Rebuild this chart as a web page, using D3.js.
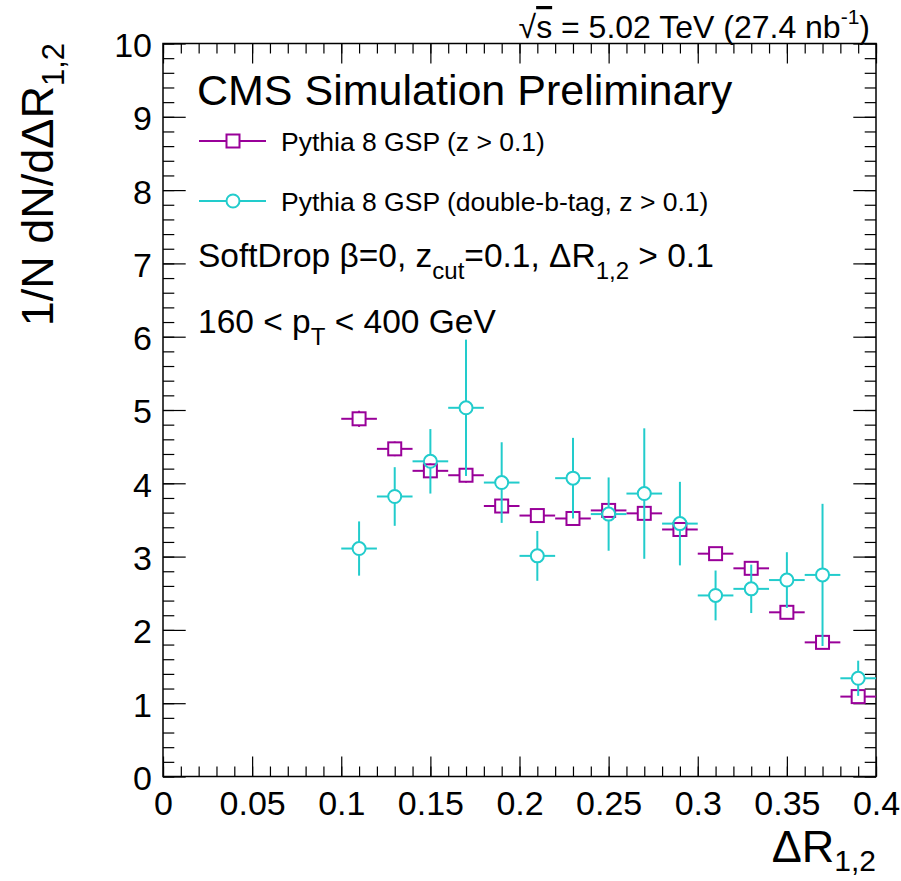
<!DOCTYPE html>
<html>
<head>
<meta charset="utf-8">
<script src="https://cdn.jsdelivr.net/npm/d3@7"></script>
<style>
  html, body { margin: 0; padding: 0; background: #fff; }
  svg text { font-family: "Liberation Sans", Arial, Helvetica, sans-serif; fill: #000; }
</style>
</head>
<body>
<svg id="chart" width="901" height="881"></svg>
<script>
// ---- data ----
const binCenters = [0.11, 0.13, 0.15, 0.17, 0.19, 0.21, 0.23, 0.25, 0.27, 0.29, 0.31, 0.33, 0.35, 0.37, 0.39];
const binHalfWidth = 0.01;
const gspValues = [4.88, 4.47, 4.17, 4.11, 3.69, 3.56, 3.52, 3.63, 3.59, 3.37, 3.04, 2.84, 2.24, 1.83, 1.09];
const gspErrors = [0.11, 0.10, 0.10, 0.10, 0.09, 0.09, 0.09, 0.09, 0.09, 0.08, 0.08, 0.08, 0.07, 0.07, 0.05];
const dbtagValues = [3.11, 3.82, 4.30, 5.03, 4.01, 3.01, 4.07, 3.58, 3.86, 3.45, 2.47, 2.56, 2.68, 2.75, 1.34];
const dbtagErrors = [0.37, 0.40, 0.44, 0.93, 0.55, 0.34, 0.55, 0.50, 0.89, 0.57, 0.34, 0.33, 0.38, 0.97, 0.24];
const xTickValues = [0, 0.05, 0.1, 0.15, 0.2, 0.25, 0.3, 0.35, 0.4];
const xTickLabels = ["0", "0.05", "0.1", "0.15", "0.2", "0.25", "0.3", "0.35", "0.4"];
const yTickValues = [0, 1, 2, 3, 4, 5, 6, 7, 8, 9, 10];
const yTickLabels = ["0", "1", "2", "3", "4", "5", "6", "7", "8", "9", "10"];
const seriesNames = ["Pythia 8 GSP (z > 0.1)", "Pythia 8 GSP (double-b-tag, z > 0.1)"];

// ---- layout ----
const L = 163, R = 876, T = 43.5, B = 776.5;
const colGsp = "#990099", colDb = "#22cccc";
const svg = d3.select("#chart");
const x = d3.scaleLinear().domain([0, 0.4]).range([L, R]);
const y = d3.scaleLinear().domain([0, 10]).range([B, T]);

const xMinor = d3.range(0, 0.4001, 0.01);
const yMinor = d3.range(0, 10.001, 0.2);

function styleAxis(g) {
  g.select(".domain").remove();
  g.selectAll(".tick line").attr("stroke", "#000").attr("stroke-width", 1.2);
}

// bottom axis
svg.append("g").attr("transform", `translate(0,${B})`)
  .call(d3.axisBottom(x).tickValues(xMinor).tickSizeInner(-10).tickSizeOuter(0).tickFormat(""))
  .call(styleAxis);
svg.append("g").attr("transform", `translate(0,${B})`)
  .call(d3.axisBottom(x).tickValues(xTickValues).tickSizeInner(-20).tickSizeOuter(0).tickPadding(14)
    .tickFormat((d, i) => xTickLabels[i]))
  .call(styleAxis)
  .call(g => g.selectAll("text").attr("font-size", 34).attr("font-family", "Liberation Sans, Arial, sans-serif").attr("fill", "#000"));
// top axis
svg.append("g").attr("transform", `translate(0,${T})`)
  .call(d3.axisTop(x).tickValues(xMinor).tickSizeInner(-10).tickSizeOuter(0).tickFormat(""))
  .call(styleAxis);
svg.append("g").attr("transform", `translate(0,${T})`)
  .call(d3.axisTop(x).tickValues(xTickValues).tickSizeInner(-20).tickSizeOuter(0).tickFormat(""))
  .call(styleAxis);
// left axis
svg.append("g").attr("transform", `translate(${L},0)`)
  .call(d3.axisLeft(y).tickValues(yMinor).tickSizeInner(-11.3).tickSizeOuter(0).tickFormat(""))
  .call(styleAxis);
svg.append("g").attr("transform", `translate(${L},0)`)
  .call(d3.axisLeft(y).tickValues(yTickValues).tickSizeInner(-22.7).tickSizeOuter(0).tickPadding(11)
    .tickFormat((d, i) => yTickLabels[i]))
  .call(styleAxis)
  .call(g => g.selectAll("text").attr("font-size", 34).attr("dy", "0.38em").attr("font-family", "Liberation Sans, Arial, sans-serif").attr("fill", "#000"));
// right axis
svg.append("g").attr("transform", `translate(${R},0)`)
  .call(d3.axisRight(y).tickValues(yMinor).tickSizeInner(-11.3).tickSizeOuter(0).tickFormat(""))
  .call(styleAxis);
svg.append("g").attr("transform", `translate(${R},0)`)
  .call(d3.axisRight(y).tickValues(yTickValues).tickSizeInner(-22.7).tickSizeOuter(0).tickFormat(""))
  .call(styleAxis);

// frame
svg.append("rect").attr("x", L).attr("y", T).attr("width", R - L).attr("height", B - T)
  .attr("fill", "none").attr("stroke", "#000").attr("stroke-width", 1.5);

// ---- data points ----
const MR = 6.5; // marker half size
function drawSeries(vals, errs, color, shape) {
  const g = svg.append("g");
  vals.forEach((v, i) => {
    const cx = x(binCenters[i]);
    const cy = y(v);
    const xl = x(binCenters[i] - binHalfWidth), xr = x(binCenters[i] + binHalfWidth);
    const ePx = y(v - errs[i]) - cy;
    const seg = (x1, y1, x2, y2) => g.append("line").attr("x1", x1).attr("y1", y1).attr("x2", x2).attr("y2", y2)
      .attr("stroke", color).attr("stroke-width", 2);
    seg(xl, cy, cx - MR, cy);
    seg(cx + MR, cy, xr, cy);
    if (ePx > MR) {
      seg(cx, cy - ePx, cx, cy - MR);
      seg(cx, cy + MR, cx, cy + ePx);
    }
    if (shape === "square") {
      g.append("rect").attr("x", cx - MR).attr("y", cy - MR).attr("width", 2 * MR).attr("height", 2 * MR)
        .attr("fill", "none").attr("stroke", color).attr("stroke-width", 2);
    } else {
      g.append("circle").attr("cx", cx).attr("cy", cy).attr("r", MR)
        .attr("fill", "none").attr("stroke", color).attr("stroke-width", 2);
    }
  });
}
drawSeries(gspValues, gspErrors, colGsp, "square");
drawSeries(dbtagValues, dbtagErrors, colDb, "circle");

// ---- legend ----
function legendEntry(yc, color, shape, label) {
  svg.append("line").attr("x1", 199).attr("x2", 266).attr("y1", yc).attr("y2", yc)
    .attr("stroke", color).attr("stroke-width", 2);
  if (shape === "square") {
    svg.append("rect").attr("x", 233 - MR).attr("y", yc - MR).attr("width", 2 * MR).attr("height", 2 * MR)
      .attr("fill", "#fff").attr("stroke", color).attr("stroke-width", 2);
  } else {
    svg.append("circle").attr("cx", 233).attr("cy", yc).attr("r", MR)
      .attr("fill", "#fff").attr("stroke", color).attr("stroke-width", 2);
  }
  svg.append("text").attr("x", 281).attr("y", yc + 10).attr("font-size", 26.5).text(label);
}
legendEntry(141, colGsp, "square", seriesNames[0]);
legendEntry(201, colDb, "circle", seriesNames[1]);

// ---- texts ----
svg.append("text").attr("x", 197).attr("y", 105).attr("font-size", 43).text("CMS Simulation Preliminary");

const sd = svg.append("text").attr("x", 198).attr("y", 267).attr("font-size", 33.5);
sd.append("tspan").text("SoftDrop β=0, z");
sd.append("tspan").attr("font-size", 24).attr("dy", 12).text("cut");
sd.append("tspan").attr("dy", -12).text("=0.1, ΔR");
sd.append("tspan").attr("font-size", 24).attr("dy", 12).text("1,2");
sd.append("tspan").attr("dy", -12).text(" > 0.1");

const pt = svg.append("text").attr("x", 198).attr("y", 333).attr("font-size", 33.5);
pt.append("tspan").text("160 < p");
pt.append("tspan").attr("font-size", 24).attr("dy", 12).text("T");
pt.append("tspan").attr("dy", -12).text(" < 400 GeV");

const en = svg.append("text").attr("x", 870).attr("y", 38).attr("font-size", 32).attr("text-anchor", "end");
en.append("tspan").text("√");
en.append("tspan").style("text-decoration", "overline").text("s");
en.append("tspan").text(" = 5.02 TeV (27.4 nb");
en.append("tspan").attr("font-size", 21).attr("dy", -14).text("-1");
en.append("tspan").attr("dy", 14).text(")");

// axis titles
const xt = svg.append("text").attr("x", 876).attr("y", 862).attr("font-size", 45).attr("text-anchor", "end");
xt.append("tspan").text("ΔR");
xt.append("tspan").attr("font-size", 30).attr("dy", 9).text("1,2");

const yt = svg.append("text").attr("transform", "translate(53,43) rotate(-90)").attr("font-size", 45)
  .attr("text-anchor", "end");
yt.append("tspan").text("1/N dN/dΔR");
yt.append("tspan").attr("font-size", 31).attr("dy", 11).text("1,2");
</script>
</body>
</html>
